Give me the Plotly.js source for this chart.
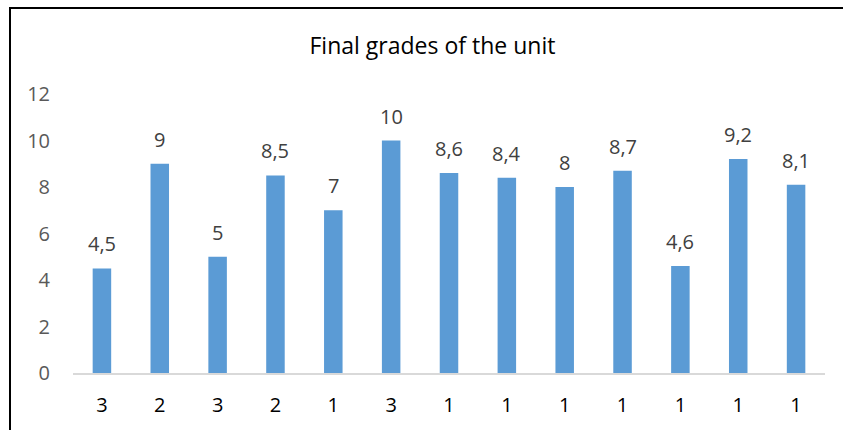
<!DOCTYPE html>
<html>
<head>
<meta charset="utf-8">
<script src="https://cdn.plot.ly/plotly-3.0.1.min.js"></script>
<style>
  html, body { margin: 0; padding: 0; background: #fff; overflow: hidden; }
  #frame { position: absolute; left: 9px; top: 7px; width: 900px; height: 500px; border-left: 2px solid #000; border-top: 2px solid #000; pointer-events: none; z-index: 5; }
  #chart { width: 843px; height: 430px; }
</style>
</head>
<body>
<div id="frame"></div>
<div id="chart"></div>
<script>
const chartTitle = "Final grades of the unit";
const tickLabels = ["3", "2", "3", "2", "1", "3", "1", "1", "1", "1", "1", "1", "1"];
const grades = [4.5, 9, 5, 8.5, 7, 10, 8.6, 8.4, 8, 8.7, 4.6, 9.2, 8.1];

const positions = tickLabels.map((_, i) => i);
const fmt = v => String(v).replace('.', ',');

const trace = {
  type: 'bar',
  x: positions,
  y: grades,
  marker: { color: '#5B9BD5' },
  hoverinfo: 'none'
};

const annotations = grades.map((v, i) => ({
  x: i, y: v, xref: 'x', yref: 'y',
  text: fmt(v), showarrow: false,
  yanchor: 'bottom', yshift: 9,
  font: { family: 'Open Sans, sans-serif', size: 20, color: '#404040' }
}));

const layout = {
  width: 843, height: 430,
  margin: { l: 73, r: 18, t: 94, b: 57 },
  paper_bgcolor: '#ffffff', plot_bgcolor: '#ffffff',
  bargap: 0.68,
  separators: ',.',
  showlegend: false,
  title: {
    text: chartTitle,
    font: { family: 'Open Sans, sans-serif', size: 23, color: '#000000' },
    x: 0.513, xanchor: 'center', xref: 'container',
    y: 0.893, yref: 'container', yanchor: 'middle',
    automargin: false
  },
  xaxis: {
    tickmode: 'array', tickvals: positions, ticktext: tickLabels,
    range: [-0.5, tickLabels.length - 0.5],
    showline: true, linecolor: '#D9D9D9', linewidth: 2,
    showgrid: false, zeroline: false, ticks: '',
    ticklabelstandoff: 13,
    tickfont: { family: 'Open Sans, sans-serif', size: 20, color: '#000000' }
  },
  yaxis: {
    range: [0, 12], tickmode: 'linear', tick0: 0, dtick: 2,
    showline: false, showgrid: false, zeroline: false, ticks: '',
    ticklabelstandoff: 22,
    tickfont: { family: 'Open Sans, sans-serif', size: 20, color: '#595959' }
  },
  annotations: annotations
};

Plotly.newPlot('chart', [trace], layout, { displayModeBar: false, staticPlot: true });
</script>
</body>
</html>
